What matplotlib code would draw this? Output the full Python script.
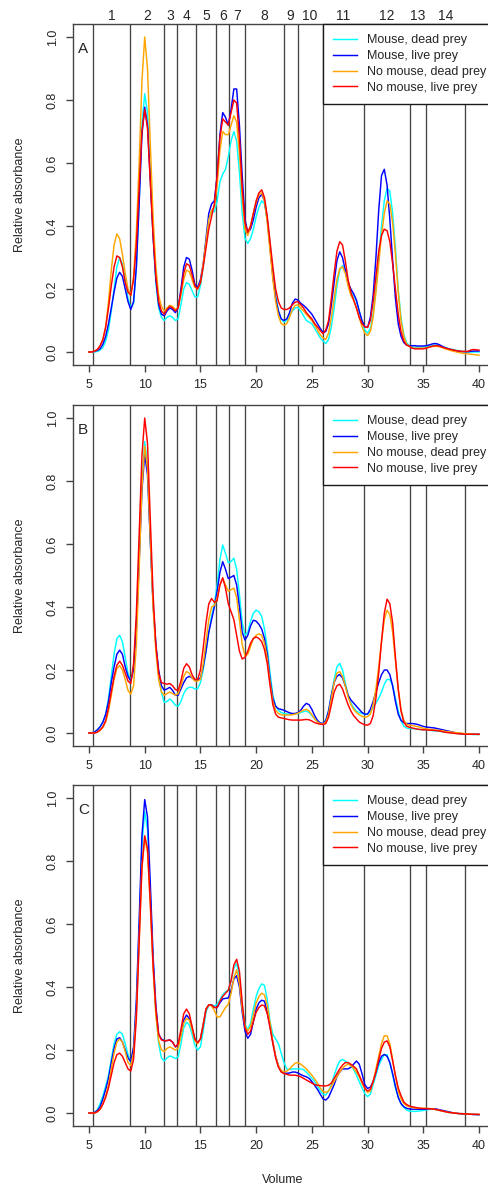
import numpy as np
import matplotlib
matplotlib.use("Agg")
import matplotlib.pyplot as plt
from matplotlib.lines import Line2D

plt.rcParams['font.family'] = ['Liberation Sans', 'DejaVu Sans']

# ---------------- data ----------------
# sampled elution volumes (5 to 40, every 0.25)
volume = np.linspace(5.0, 40.0, 141)

# fraction boundaries (vertical lines) and fraction labels
boundaries = [5.36, 8.71, 11.73, 12.93, 14.57, 16.40, 17.59, 19.03,
              22.47, 23.73, 25.97, 29.65, 33.78, 35.27, 38.77]
fraction_labels = [str(i) for i in range(1, 15)]

series_names = ["Mouse, dead prey", "Mouse, live prey",
                "No mouse, dead prey", "No mouse, live prey"]
series_colors = ["#00FFFF", "#0000FF", "#FFA500", "#FF0000"]
panel_letters = ["A", "B", "C"]

A_cyan = [0.0, 0.0, 0.0, 0.002, 0.006, 0.015, 0.035, 0.07, 0.13, 0.2, 0.27, 0.30,
          0.28, 0.23, 0.17, 0.14, 0.155, 0.27, 0.48, 0.72, 0.82, 0.76, 0.57, 0.37,
          0.22, 0.14, 0.11, 0.10, 0.11, 0.115, 0.11, 0.10, 0.105, 0.15, 0.20, 0.22,
          0.215, 0.195, 0.175, 0.175, 0.21, 0.27, 0.35, 0.42, 0.445, 0.445, 0.48, 0.54,
          0.565, 0.58, 0.62, 0.67, 0.70, 0.67, 0.57, 0.44, 0.36, 0.345, 0.36, 0.39,
          0.43, 0.46, 0.48, 0.47, 0.42, 0.34, 0.25, 0.18, 0.13, 0.105, 0.095, 0.10,
          0.115, 0.13, 0.14, 0.142, 0.13, 0.115, 0.10, 0.095, 0.09, 0.075, 0.06, 0.045,
          0.035, 0.027, 0.04, 0.08, 0.14, 0.21, 0.26, 0.274, 0.255, 0.22, 0.195, 0.18,
          0.16, 0.13, 0.095, 0.07, 0.06, 0.075, 0.12, 0.20, 0.30, 0.40, 0.48, 0.52,
          0.51, 0.44, 0.33, 0.20, 0.11, 0.055, 0.03, 0.02, 0.015, 0.015, 0.015, 0.016,
          0.016, 0.017, 0.018, 0.02, 0.022, 0.022, 0.02, 0.017, 0.014, 0.011, 0.009, 0.007,
          0.005, 0.003, 0.002, 0.001, 0.0, 0.0, 0.0, 0.0, 0.0]
A_blue = [0.0, 0.0, 0.002, 0.005, 0.01, 0.025, 0.05, 0.09, 0.14, 0.19, 0.235, 0.253,
          0.24, 0.2, 0.16, 0.135, 0.16, 0.27, 0.47, 0.69, 0.777, 0.72, 0.55, 0.37,
          0.23, 0.15, 0.12, 0.115, 0.13, 0.14, 0.135, 0.125, 0.14, 0.2, 0.27, 0.30,
          0.295, 0.26, 0.215, 0.205, 0.23, 0.28, 0.36, 0.44, 0.47, 0.48, 0.56, 0.69,
          0.76, 0.745, 0.72, 0.77, 0.835, 0.835, 0.72, 0.56, 0.42, 0.38, 0.39, 0.42,
          0.46, 0.49, 0.50, 0.48, 0.42, 0.33, 0.24, 0.17, 0.13, 0.105, 0.10, 0.105,
          0.125, 0.155, 0.168, 0.165, 0.155, 0.148, 0.14, 0.13, 0.12, 0.105, 0.09, 0.075,
          0.062, 0.065, 0.09, 0.15, 0.22, 0.29, 0.318, 0.30, 0.26, 0.22, 0.20, 0.185,
          0.165, 0.13, 0.10, 0.08, 0.078, 0.11, 0.18, 0.30, 0.45, 0.56, 0.58, 0.53,
          0.42, 0.29, 0.17, 0.09, 0.05, 0.03, 0.022, 0.02, 0.02, 0.02, 0.019, 0.019,
          0.019, 0.02, 0.022, 0.025, 0.027, 0.026, 0.022, 0.017, 0.013, 0.01, 0.007, 0.005,
          0.003, 0.002, 0.001, 0.001, 0.001, 0.002, 0.003, 0.003, 0.003]
A_orange = [0.0, 0.0, 0.003, 0.008, 0.02, 0.04, 0.08, 0.16, 0.26, 0.34, 0.375, 0.36,
            0.31, 0.25, 0.20, 0.18, 0.24, 0.38, 0.60, 0.86, 1.0, 0.90, 0.66, 0.43,
            0.27, 0.18, 0.145, 0.13, 0.14, 0.148, 0.145, 0.135, 0.14, 0.18, 0.23, 0.26,
            0.255, 0.23, 0.205, 0.20, 0.22, 0.28, 0.35, 0.42, 0.45, 0.46, 0.53, 0.64,
            0.70, 0.69, 0.69, 0.72, 0.75, 0.73, 0.63, 0.49, 0.39, 0.37, 0.40, 0.44,
            0.475, 0.50, 0.505, 0.48, 0.41, 0.32, 0.23, 0.16, 0.115, 0.09, 0.085, 0.09,
            0.11, 0.135, 0.148, 0.15, 0.14, 0.13, 0.12, 0.11, 0.10, 0.085, 0.07, 0.055,
            0.045, 0.04, 0.06, 0.11, 0.17, 0.23, 0.265, 0.27, 0.25, 0.21, 0.18, 0.165,
            0.14, 0.11, 0.08, 0.06, 0.052, 0.065, 0.11, 0.19, 0.28, 0.37, 0.44, 0.48,
            0.47, 0.41, 0.31, 0.19, 0.10, 0.05, 0.025, 0.018, 0.012, 0.012, 0.012, 0.012,
            0.012, 0.013, 0.015, 0.017, 0.018, 0.018, 0.016, 0.013, 0.01, 0.007, 0.004, 0.002,
            0.0, -0.002, -0.004, -0.005, -0.006, -0.007, -0.008, -0.009, -0.01]
A_red = [0.0, 0.0, 0.003, 0.008, 0.02, 0.04, 0.08, 0.14, 0.21, 0.27, 0.305, 0.30,
         0.27, 0.22, 0.19, 0.18, 0.23, 0.34, 0.52, 0.70, 0.77, 0.71, 0.54, 0.37,
         0.24, 0.16, 0.13, 0.12, 0.135, 0.145, 0.14, 0.13, 0.14, 0.19, 0.25, 0.28,
         0.275, 0.245, 0.21, 0.20, 0.22, 0.27, 0.33, 0.39, 0.43, 0.47, 0.56, 0.68,
         0.74, 0.73, 0.72, 0.76, 0.80, 0.79, 0.68, 0.52, 0.41, 0.38, 0.40, 0.44,
         0.48, 0.505, 0.515, 0.49, 0.43, 0.35, 0.27, 0.20, 0.16, 0.14, 0.135, 0.135,
         0.14, 0.15, 0.158, 0.16, 0.15, 0.14, 0.125, 0.115, 0.105, 0.09, 0.08, 0.068,
         0.058, 0.07, 0.10, 0.17, 0.25, 0.32, 0.35, 0.34, 0.29, 0.23, 0.19, 0.165,
         0.14, 0.11, 0.09, 0.08, 0.078, 0.10, 0.16, 0.24, 0.32, 0.37, 0.39, 0.385,
         0.35, 0.28, 0.20, 0.12, 0.065, 0.035, 0.022, 0.018, 0.012, 0.01, 0.01, 0.01,
         0.01, 0.012, 0.015, 0.018, 0.02, 0.02, 0.018, 0.015, 0.012, 0.01, 0.008, 0.006,
         0.004, 0.003, 0.002, 0.002, 0.002, 0.006, 0.008, 0.007, 0.006]

B_cyan = [0.0, 0.0, 0.003, 0.01, 0.02, 0.035, 0.06, 0.11, 0.18, 0.25, 0.30, 0.31,
          0.29, 0.24, 0.19, 0.165, 0.21, 0.35, 0.565, 0.80, 0.925, 0.85, 0.62, 0.41,
          0.28, 0.19, 0.13, 0.097, 0.10, 0.108, 0.10, 0.088, 0.085, 0.10, 0.125, 0.14,
          0.145, 0.145, 0.14, 0.14, 0.16, 0.20, 0.26, 0.32, 0.37, 0.41, 0.47, 0.55,
          0.597, 0.57, 0.54, 0.545, 0.555, 0.52, 0.44, 0.35, 0.31, 0.32, 0.355, 0.38,
          0.39, 0.385, 0.37, 0.33, 0.27, 0.19, 0.12, 0.085, 0.072, 0.065, 0.062, 0.06,
          0.06, 0.06, 0.06, 0.062, 0.065, 0.068, 0.07, 0.065, 0.055, 0.045, 0.035, 0.03,
          0.03, 0.04, 0.07, 0.12, 0.17, 0.21, 0.221, 0.20, 0.16, 0.12, 0.095, 0.08,
          0.07, 0.065, 0.062, 0.059, 0.06, 0.068, 0.08, 0.095, 0.11, 0.13, 0.155, 0.17,
          0.17, 0.15, 0.11, 0.07, 0.04, 0.022, 0.016, 0.014, 0.014, 0.013, 0.012, 0.011,
          0.01, 0.01, 0.009, 0.008, 0.007, 0.006, 0.005, 0.004, 0.003, 0.002, 0.001, 0.0,
          -0.001, -0.002, -0.003, -0.003, -0.004, -0.004, -0.005, -0.005, -0.005]
B_blue = [0.0, 0.0, 0.003, 0.01, 0.02, 0.035, 0.06, 0.1, 0.16, 0.21, 0.25, 0.263,
          0.25, 0.21, 0.18, 0.165, 0.2, 0.33, 0.54, 0.77, 0.885, 0.82, 0.61, 0.41,
          0.28, 0.2, 0.15, 0.136, 0.14, 0.145, 0.135, 0.12, 0.12, 0.14, 0.16, 0.175,
          0.18, 0.175, 0.168, 0.168, 0.175, 0.21, 0.26, 0.32, 0.36, 0.40, 0.45, 0.51,
          0.544, 0.52, 0.49, 0.495, 0.50, 0.47, 0.40, 0.32, 0.295, 0.31, 0.34, 0.358,
          0.355, 0.345, 0.33, 0.30, 0.25, 0.17, 0.11, 0.085, 0.077, 0.075, 0.072, 0.068,
          0.064, 0.062, 0.062, 0.065, 0.072, 0.085, 0.094, 0.09, 0.075, 0.055, 0.04, 0.032,
          0.03, 0.04, 0.07, 0.12, 0.16, 0.18, 0.186, 0.175, 0.15, 0.12, 0.105, 0.095,
          0.085, 0.075, 0.065, 0.06, 0.06, 0.075, 0.1, 0.13, 0.16, 0.185, 0.2, 0.2,
          0.185, 0.15, 0.1, 0.06, 0.04, 0.033, 0.03, 0.03, 0.03, 0.029, 0.027, 0.024,
          0.021, 0.019, 0.018, 0.017, 0.016, 0.014, 0.012, 0.01, 0.008, 0.006, 0.004, 0.002,
          0.0, -0.001, -0.002, -0.003, -0.003, -0.003, -0.004, -0.004, -0.004]
B_orange = [0.0, 0.0, 0.0, 0.003, 0.008, 0.018, 0.035, 0.07, 0.12, 0.17, 0.205, 0.214,
            0.2, 0.17, 0.135, 0.123, 0.15, 0.28, 0.52, 0.78, 0.91, 0.84, 0.62, 0.40,
            0.26, 0.17, 0.13, 0.12, 0.125, 0.13, 0.125, 0.12, 0.125, 0.15, 0.18, 0.195,
            0.19, 0.175, 0.165, 0.165, 0.17, 0.22, 0.29, 0.36, 0.40, 0.405, 0.43, 0.47,
            0.49, 0.47, 0.45, 0.455, 0.46, 0.43, 0.36, 0.28, 0.245, 0.25, 0.275, 0.30,
            0.31, 0.315, 0.31, 0.285, 0.235, 0.16, 0.10, 0.072, 0.062, 0.058, 0.057, 0.057,
            0.057, 0.058, 0.06, 0.063, 0.068, 0.073, 0.075, 0.07, 0.058, 0.045, 0.035, 0.03,
            0.028, 0.035, 0.06, 0.11, 0.16, 0.19, 0.195, 0.18, 0.15, 0.115, 0.09, 0.075,
            0.065, 0.058, 0.053, 0.05, 0.052, 0.06, 0.09, 0.14, 0.21, 0.29, 0.36, 0.39,
            0.375, 0.32, 0.23, 0.14, 0.075, 0.04, 0.028, 0.025, 0.024, 0.022, 0.02, 0.018,
            0.015, 0.013, 0.012, 0.011, 0.01, 0.009, 0.008, 0.007, 0.005, 0.004, 0.003, 0.002,
            0.001, 0.0, -0.001, -0.002, -0.003, -0.003, -0.004, -0.004, -0.005]
B_red = [0.0, 0.0, 0.0, 0.003, 0.01, 0.02, 0.04, 0.08, 0.13, 0.18, 0.215, 0.228,
         0.215, 0.19, 0.165, 0.157, 0.22, 0.38, 0.63, 0.88, 1.0, 0.92, 0.68, 0.44,
         0.28, 0.19, 0.16, 0.157, 0.155, 0.157, 0.15, 0.138, 0.135, 0.165, 0.205, 0.22,
         0.21, 0.185, 0.17, 0.17, 0.2, 0.27, 0.35, 0.41, 0.427, 0.415, 0.42, 0.47,
         0.493, 0.46, 0.41, 0.385, 0.36, 0.31, 0.26, 0.235, 0.24, 0.26, 0.285, 0.30,
         0.305, 0.30, 0.29, 0.265, 0.22, 0.15, 0.09, 0.06, 0.05, 0.048, 0.046, 0.044,
         0.042, 0.041, 0.041, 0.041, 0.041, 0.042, 0.043, 0.042, 0.038, 0.033, 0.03, 0.028,
         0.027, 0.03, 0.05, 0.09, 0.13, 0.15, 0.155, 0.14, 0.115, 0.09, 0.07, 0.055,
         0.045, 0.035, 0.03, 0.026, 0.025, 0.03, 0.055, 0.11, 0.19, 0.29, 0.38, 0.425,
         0.41, 0.35, 0.24, 0.14, 0.07, 0.035, 0.022, 0.018, 0.016, 0.014, 0.012, 0.011,
         0.01, 0.01, 0.009, 0.009, 0.008, 0.007, 0.006, 0.004, 0.002, 0.001, 0.0, -0.001,
         -0.002, -0.003, -0.003, -0.004, -0.004, -0.004, -0.004, -0.004, -0.004]

C_cyan = [0.0, 0.0, 0.002, 0.01, 0.03, 0.055, 0.085, 0.12, 0.17, 0.22, 0.25, 0.258,
          0.25, 0.22, 0.185, 0.16, 0.2, 0.33, 0.58, 0.85, 0.957, 0.9, 0.7, 0.48,
          0.32, 0.22, 0.175, 0.165, 0.175, 0.181, 0.178, 0.173, 0.178, 0.22, 0.27, 0.288,
          0.28, 0.25, 0.215, 0.2, 0.21, 0.26, 0.32, 0.343, 0.343, 0.34, 0.345, 0.36,
          0.375, 0.385, 0.39, 0.42, 0.46, 0.475, 0.43, 0.34, 0.28, 0.265, 0.285, 0.33,
          0.37, 0.395, 0.41, 0.405, 0.36, 0.29, 0.25, 0.235, 0.22, 0.19, 0.16, 0.14,
          0.138, 0.14, 0.14, 0.14, 0.14, 0.138, 0.13, 0.12, 0.11, 0.1, 0.085, 0.07,
          0.06, 0.057, 0.07, 0.09, 0.12, 0.145, 0.165, 0.17, 0.165, 0.158, 0.15, 0.138,
          0.12, 0.1, 0.08, 0.062, 0.052, 0.06, 0.09, 0.12, 0.15, 0.17, 0.185, 0.185,
          0.16, 0.12, 0.08, 0.05, 0.03, 0.018, 0.01, 0.006, 0.005, 0.005, 0.006, 0.007,
          0.008, 0.01, 0.011, 0.012, 0.012, 0.01, 0.008, 0.006, 0.004, 0.002, 0.001, 0.0,
          -0.001, -0.002, -0.002, -0.003, -0.003, -0.004, -0.004, -0.005, -0.005]
C_blue = [0.0, 0.0, 0.002, 0.008, 0.02, 0.045, 0.075, 0.11, 0.16, 0.205, 0.235, 0.239,
          0.225, 0.2, 0.175, 0.163, 0.21, 0.36, 0.61, 0.88, 0.995, 0.94, 0.73, 0.5,
          0.34, 0.25, 0.235, 0.229, 0.23, 0.232, 0.225, 0.21, 0.215, 0.25, 0.295, 0.311,
          0.3, 0.27, 0.235, 0.223, 0.235, 0.28, 0.33, 0.343, 0.343, 0.335, 0.335, 0.35,
          0.362, 0.364, 0.365, 0.39, 0.425, 0.436, 0.4, 0.32, 0.26, 0.237, 0.25, 0.29,
          0.33, 0.35, 0.358, 0.355, 0.32, 0.275, 0.225, 0.18, 0.15, 0.133, 0.127, 0.126,
          0.127, 0.13, 0.13, 0.127, 0.122, 0.118, 0.115, 0.11, 0.1, 0.088, 0.075, 0.06,
          0.045, 0.041, 0.05, 0.07, 0.09, 0.115, 0.13, 0.14, 0.14, 0.14, 0.145, 0.155,
          0.165, 0.155, 0.125, 0.09, 0.078, 0.082, 0.1, 0.13, 0.16, 0.18, 0.186, 0.18,
          0.16, 0.125, 0.085, 0.05, 0.03, 0.02, 0.015, 0.013, 0.012, 0.012, 0.012, 0.012,
          0.012, 0.012, 0.013, 0.013, 0.013, 0.012, 0.01, 0.008, 0.006, 0.004, 0.002, 0.0,
          -0.001, -0.002, -0.003, -0.003, -0.004, -0.004, -0.005, -0.005, -0.006]
C_orange = [0.0, 0.0, 0.0, 0.004, 0.012, 0.03, 0.055, 0.09, 0.14, 0.19, 0.225, 0.235,
            0.225, 0.195, 0.16, 0.15, 0.19, 0.32, 0.55, 0.78, 0.87, 0.83, 0.66, 0.46,
            0.31, 0.23, 0.2, 0.195, 0.205, 0.21, 0.205, 0.2, 0.205, 0.245, 0.285, 0.30,
            0.295, 0.265, 0.23, 0.22, 0.235, 0.28, 0.33, 0.343, 0.34, 0.325, 0.305, 0.305,
            0.32, 0.335, 0.345, 0.38, 0.43, 0.454, 0.41, 0.33, 0.275, 0.26, 0.275, 0.31,
            0.35, 0.37, 0.38, 0.375, 0.34, 0.285, 0.225, 0.18, 0.15, 0.135, 0.13, 0.133,
            0.14, 0.15, 0.158, 0.16, 0.155, 0.148, 0.14, 0.13, 0.12, 0.108, 0.095, 0.08,
            0.068, 0.065, 0.07, 0.085, 0.1, 0.115, 0.13, 0.142, 0.15, 0.155, 0.15, 0.142,
            0.13, 0.115, 0.095, 0.078, 0.065, 0.07, 0.1, 0.14, 0.18, 0.22, 0.245, 0.245,
            0.22, 0.17, 0.115, 0.07, 0.045, 0.03, 0.023, 0.02, 0.018, 0.016, 0.015, 0.015,
            0.015, 0.015, 0.014, 0.013, 0.012, 0.01, 0.008, 0.006, 0.004, 0.002, 0.001, 0.0,
            -0.001, -0.002, -0.002, -0.003, -0.003, -0.004, -0.004, -0.005, -0.005]
C_red = [0.0, 0.0, 0.0, 0.004, 0.012, 0.028, 0.05, 0.08, 0.12, 0.16, 0.185, 0.19,
         0.18, 0.16, 0.14, 0.133, 0.17, 0.3, 0.54, 0.78, 0.88, 0.84, 0.67, 0.47,
         0.33, 0.25, 0.232, 0.229, 0.23, 0.232, 0.225, 0.21, 0.22, 0.265, 0.315, 0.33,
         0.315, 0.275, 0.235, 0.223, 0.235, 0.28, 0.33, 0.343, 0.343, 0.335, 0.335, 0.355,
         0.37, 0.38, 0.39, 0.42, 0.47, 0.488, 0.45, 0.35, 0.27, 0.25, 0.26, 0.29,
         0.32, 0.335, 0.343, 0.34, 0.315, 0.27, 0.22, 0.175, 0.145, 0.13, 0.125, 0.123,
         0.12, 0.12, 0.12, 0.118, 0.115, 0.11, 0.105, 0.1, 0.095, 0.09, 0.088, 0.087,
         0.086, 0.086, 0.088, 0.095, 0.11, 0.125, 0.14, 0.152, 0.16, 0.16, 0.155, 0.148,
         0.14, 0.12, 0.1, 0.08, 0.07, 0.075, 0.1, 0.13, 0.17, 0.205, 0.225, 0.229,
         0.21, 0.165, 0.12, 0.08, 0.055, 0.035, 0.027, 0.022, 0.02, 0.018, 0.016, 0.015,
         0.014, 0.014, 0.014, 0.013, 0.012, 0.01, 0.008, 0.006, 0.004, 0.002, 0.001, 0.0,
         -0.001, -0.002, -0.002, -0.003, -0.003, -0.004, -0.004, -0.004, -0.004]

panel_series = [
    [A_cyan, A_blue, A_orange, A_red],
    [B_cyan, B_blue, B_orange, B_red],
    [C_cyan, C_blue, C_orange, C_red],
]

# ---------------- layout ----------------
W, H = 489, 1188
fig = plt.figure(figsize=(W / 100, H / 100), dpi=100)
fig.patch.set_facecolor("white")

panel_boxes = [(73.4, 24.4, 494.6, 364.6),
               (73.4, 405.4, 494.6, 745.6),
               (73.4, 785.4, 494.6, 1125.6)]

ink = "#262626"
line_col = "#444444"

for i, (box, letter, series) in enumerate(zip(panel_boxes, panel_letters, panel_series)):
    l, t, r, b = box
    ax = fig.add_axes([l / W, 1 - b / H, (r - l) / W, (b - t) / H])
    ax.set_xlim(3.6, 41.4)
    ax.set_ylim(-0.04, 1.04)

    for v in boundaries:
        ax.axvline(v, color=line_col, lw=0.95, zorder=1)

    for vals, col in zip(series, series_colors):
        ax.plot(volume, vals, color=col, lw=1.05, zorder=2, solid_joinstyle="round")

    for s in ax.spines.values():
        s.set_color(line_col)
        s.set_linewidth(1.0)

    ax.set_xticks(range(5, 41, 5))
    ax.set_xticklabels([str(v) for v in range(5, 41, 5)])
    yt = [0.0, 0.2, 0.4, 0.6, 0.8, 1.0]
    ax.set_yticks(yt)
    ax.set_yticklabels([f"{v:.1f}" for v in yt])
    ax.tick_params(axis="both", direction="out", length=5, width=1.0,
                   colors=line_col, labelcolor=ink, labelsize=9)
    ax.tick_params(axis="x", pad=5.5)
    ax.tick_params(axis="y", pad=5.5)
    for lab in ax.get_yticklabels():
        lab.set_rotation(90)
        lab.set_va("center")
        lab.set_ha("right")

    ax.text(0.011, 0.928, letter, transform=ax.transAxes, ha="left", va="center",
            fontsize=11, color=ink)
    ax.text(-0.1268, 0.5, "Relative absorbance", transform=ax.transAxes,
            rotation=90, ha="center", va="center", fontsize=9, color=ink)

    handles = [Line2D([], [], color=c, lw=1.05) for c in series_colors]
    leg = ax.legend(handles, series_names, loc="upper left",
                    bbox_to_anchor=(0.5926, 1.0), borderaxespad=0.0,
                    frameon=True, fancybox=False, framealpha=1.0,
                    edgecolor="#1a1a1a", fontsize=9, handlelength=1.92,
                    handletextpad=0.8, borderpad=0.8, labelspacing=0.3)
    leg.get_frame().set_linewidth(1.0)
    leg.set_zorder(5)
    for txt in leg.get_texts():
        txt.set_color(ink)

    if i == 0:
        edges = boundaries
        for k, lab in enumerate(fraction_labels):
            mid = 0.5 * (edges[k] + edges[k + 1])
            ax.text(mid, 1.0257, lab, transform=ax.get_xaxis_transform(),
                    ha="center", va="center", fontsize=10, color=ink, clip_on=False)
    if i == 2:
        ax.text(0.4976, -0.159, "Volume", transform=ax.transAxes,
                ha="center", va="center", fontsize=9, color=ink)

fig.savefig("out.png", dpi=100, facecolor="white")
